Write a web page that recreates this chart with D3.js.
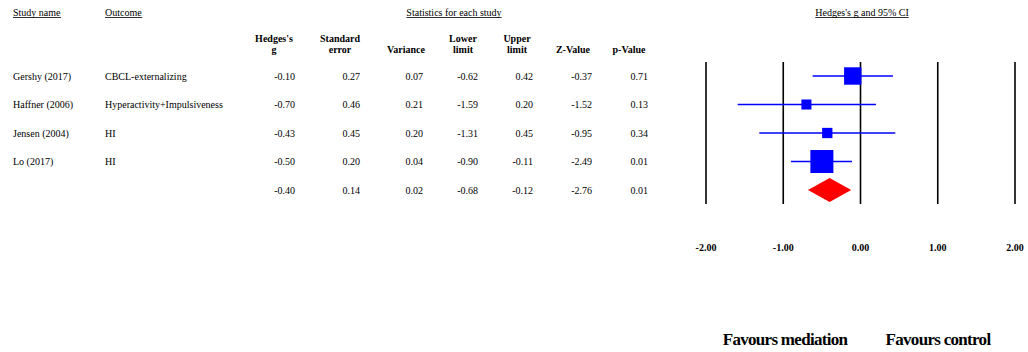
<!DOCTYPE html>
<html lang="en">
<head>
<meta charset="utf-8">
<title>Forest plot</title>
<script src="https://cdn.jsdelivr.net/npm/d3@7"></script>
<style>
body { margin: 0; background: #fff; }
.hdr { font-weight: bold; font-size: 10px; }
.cell { font-size: 10px; }
</style>
</head>
<body>
<script>
// data
var studies = ['Gershy (2017)', 'Haffner (2006)', 'Jensen (2004)', 'Lo (2017)', ''];
var outcomes = ['CBCL-externalizing', 'Hyperactivity+Impulsiveness', 'HI', 'HI', ''];
var hedgesG = [-0.10, -0.70, -0.43, -0.50, -0.40];
var stdErr = [0.27, 0.46, 0.45, 0.20, 0.14];
var variance = [0.07, 0.21, 0.20, 0.04, 0.02];
var lower = [-0.62, -1.59, -1.31, -0.90, -0.68];
var upper = [0.42, 0.20, 0.45, -0.11, -0.12];
var zValue = [-0.37, -1.52, -0.95, -2.49, -2.76];
var pValue = [0.71, 0.13, 0.34, 0.01, 0.01];
var ticks = [-2, -1, 0, 1, 2];

var w = 1028, h = 352;
var svg = d3.select('body').append('svg')
    .attr('width', w).attr('height', h)
    .attr('font-family', "'Liberation Serif', 'Times New Roman', serif");

var x = d3.scaleLinear().domain([-2, 2]).range([706, 1015]);
var rowY = d3.scalePoint().domain(d3.range(5)).range([76, 190]);
var fmt = d3.format('.2f');
var fmtG = function(v) { return fmt(v).replace('−', '-'); };

// underlined top headings
function heading(txt, xp, anchor) {
    var t = svg.append('text').attr('class', 'cell').attr('x', xp).attr('y', 16)
        .attr('text-anchor', anchor).text(txt);
    var bb = t.node().getBBox();
    svg.append('line').attr('x1', bb.x).attr('x2', bb.x + bb.width)
        .attr('y1', 17.5).attr('y2', 17.5).attr('stroke', '#000').attr('stroke-width', 0.8);
}
heading('Study name', 13, 'start');
heading('Outcome', 105, 'start');
heading('Statistics for each study', 454, 'middle');
heading("Hedges's g and 95% CI", 862, 'middle');

// stat columns
var cols = [
    { h: ["Hedges's", 'g'], v: hedgesG, r: 295 },
    { h: ['Standard', 'error'], v: stdErr, r: 360 },
    { h: ['Variance'], v: variance, r: 423 },
    { h: ['Lower', 'limit'], v: lower, r: 478 },
    { h: ['Upper', 'limit'], v: upper, r: 533 },
    { h: ['Z-Value'], v: zValue, r: 592 },
    { h: ['p-Value'], v: pValue, r: 648 }
];
var centers = [274, 340, 406, 463, 517, 573, 629];

cols.forEach(function(c, i) {
    var lines = c.h;
    lines.forEach(function(l, j) {
        svg.append('text').attr('class', 'hdr')
            .attr('x', centers[i])
            .attr('y', 53 - (lines.length - 1 - j) * 11)
            .attr('text-anchor', 'middle').text(l);
    });
    svg.selectAll(null).data(c.v).enter().append('text')
        .attr('class', 'cell')
        .attr('x', c.r)
        .attr('y', function(d, k) { return rowY(k) + 3.5; })
        .attr('text-anchor', 'end')
        .text(fmtG);
});

svg.selectAll(null).data(studies).enter().append('text')
    .attr('class', 'cell').attr('x', 13)
    .attr('y', function(d, k) { return rowY(k) + 3.5; }).text(function(d) { return d; });
svg.selectAll(null).data(outcomes).enter().append('text')
    .attr('class', 'cell').attr('x', 105)
    .attr('y', function(d, k) { return rowY(k) + 3.5; }).text(function(d) { return d; });

// vertical reference lines
svg.selectAll(null).data(ticks).enter().append('line')
    .attr('x1', x).attr('x2', x).attr('y1', 62).attr('y2', 204)
    .attr('stroke', '#000').attr('stroke-width', 1.6);

// tick labels
svg.selectAll(null).data(ticks).enter().append('text')
    .attr('class', 'hdr').attr('x', x).attr('y', 251)
    .attr('text-anchor', 'middle').text(fmtG);

// study CIs and boxes
var idx = d3.range(4);
svg.selectAll(null).data(idx).enter().append('line')
    .attr('x1', function(i) { return x(lower[i]); })
    .attr('x2', function(i) { return x(upper[i]); })
    .attr('y1', function(i) { return rowY(i); })
    .attr('y2', function(i) { return rowY(i); })
    .attr('stroke', '#0000ff').attr('stroke-width', 1.5);

var side = function(i) { return 4.6 * Math.sqrt(1 / variance[i]); };
svg.selectAll(null).data(idx).enter().append('rect')
    .attr('x', function(i) { return x(hedgesG[i]) - side(i) / 2; })
    .attr('y', function(i) { return rowY(i) - side(i) / 2; })
    .attr('width', side).attr('height', side)
    .attr('fill', '#0000ff');

// summary diamond
var yd = rowY(4);
svg.append('path')
    .attr('d', 'M' + x(lower[4]) + ',' + yd +
        'L' + x(hedgesG[4]) + ',' + (yd - 12) +
        'L' + x(upper[4]) + ',' + yd +
        'L' + x(hedgesG[4]) + ',' + (yd + 12) + 'Z')
    .attr('fill', '#ff0000');

// favours labels
svg.append('text').attr('x', 785).attr('y', 345).attr('text-anchor', 'middle')
    .style('font-weight', 'bold').style('font-size', '17px').style('letter-spacing', '-0.7px')
    .text('Favours mediation');
svg.append('text').attr('x', 938).attr('y', 345).attr('text-anchor', 'middle')
    .style('font-weight', 'bold').style('font-size', '17px').style('letter-spacing', '-0.7px')
    .text('Favours control');
</script>
</body>
</html>
